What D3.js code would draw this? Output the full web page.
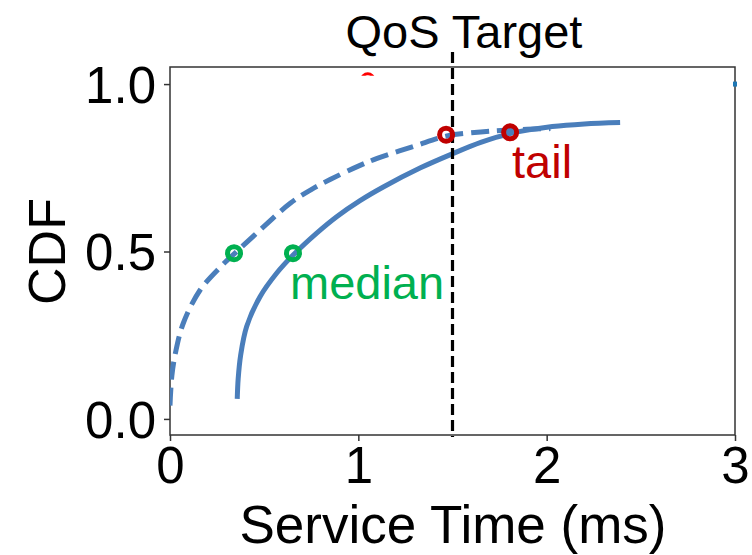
<!DOCTYPE html>
<html>
<head>
<meta charset="utf-8">
<script src="https://cdn.jsdelivr.net/npm/d3@7"></script>
<style>
  html, body { margin: 0; padding: 0; background: #fff; }
  svg { display: block; font-family: "Liberation Sans", Arial, sans-serif; }
</style>
</head>
<body>
<svg id="chart" width="752" height="555"></svg>
<script>
// Service-time CDFs (ms vs. cumulative fraction)
const dashedCdf = [
  [0.0, 0.04], [0.01, 0.13], [0.03, 0.2], [0.07, 0.285], [0.16, 0.385],
  [0.27, 0.455], [0.345, 0.495], [0.48, 0.565], [0.64, 0.645], [0.75, 0.685],
  [0.85, 0.715], [1.0, 0.755], [1.1, 0.778], [1.3, 0.815], [1.47, 0.845],
  [1.65, 0.857], [1.8, 0.863], [2.02, 0.867]
];
const solidCdf = [
  [0.357, 0.06], [0.362, 0.12], [0.375, 0.19], [0.407, 0.276], [0.478, 0.365],
  [0.566, 0.435], [0.655, 0.49], [0.779, 0.555], [0.885, 0.604], [1.009, 0.652],
  [1.13, 0.692], [1.33, 0.75], [1.5, 0.792], [1.65, 0.826], [1.806, 0.852],
  [2.03, 0.873], [2.2, 0.881], [2.39, 0.885]
];
const medianPoints = [[0.34, 0.495], [0.653, 0.495]];
const tailPoints = [[1.466, 0.849], [1.806, 0.856]];
const qosTarget = 1.5;
const xTicks = [0, 1, 2, 3];
const yTicks = [0.0, 0.5, 1.0];
const stray = { red: [1.05, 1.013], blue: [3.0, 1.0] };

const svg = d3.select("#chart");
const x = d3.scaleLinear().domain([0, 3]).range([170, 735]);
const y = d3.scaleLinear().domain([-0.048, 1.051]).range([435, 67]);

const lineColor = "#4a7ebb";

// clip region for plot content
svg.append("clipPath").attr("id", "plotClip")
  .append("rect")
  .attr("x", x(0)).attr("y", y(1.051))
  .attr("width", x(3) - x(0)).attr("height", y(-0.048) - y(1.051));

// axes
const xAxis = d3.axisBottom(x).tickValues(xTicks).tickFormat(d3.format("d")).tickSizeOuter(0).tickSize(6).tickPadding(6);
const yAxis = d3.axisLeft(y).tickValues(yTicks).tickFormat(d3.format(".1f")).tickSizeOuter(0).tickSize(6).tickPadding(8);

const gx = svg.append("g").attr("transform", `translate(0,${y(-0.048)})`).call(xAxis);
const gy = svg.append("g").attr("transform", `translate(${x(0)},0)`).call(yAxis);
[gx, gy].forEach(g => {
  g.select(".domain").remove();
  g.selectAll(".tick line").attr("stroke", "#333").attr("stroke-width", 1.5);
  g.selectAll(".tick text").attr("fill", "#000").style("font-size", "51px");
});
gx.selectAll(".tick text").attr("dy", "0.71em");
gy.selectAll(".tick text").attr("dy", "0.36em");

// frame
svg.append("rect")
  .attr("x", x(0)).attr("y", y(1.051))
  .attr("width", x(3) - x(0)).attr("height", y(-0.048) - y(1.051))
  .attr("fill", "none").attr("stroke", "#333").attr("stroke-width", 1.5);

const plot = svg.append("g").attr("clip-path", "url(#plotClip)");

const line = d3.line().x(d => x(d[0])).y(d => y(d[1])).curve(d3.curveCatmullRom.alpha(0.5));

plot.append("path").datum(dashedCdf)
  .attr("d", line).attr("fill", "none")
  .attr("stroke", lineColor).attr("stroke-width", 5)
  .attr("stroke-dasharray", "18,8");

plot.append("path").datum(solidCdf)
  .attr("d", line).attr("fill", "none")
  .attr("stroke", lineColor).attr("stroke-width", 5)
  .attr("stroke-linecap", "butt");

// stray marks near the top
svg.append("clipPath").attr("id", "arcClip")
  .append("rect")
  .attr("x", x(stray.red[0]) - 10).attr("y", y(stray.red[1]) - 10)
  .attr("width", 20).attr("height", 6);
svg.append("circle")
  .attr("cx", x(stray.red[0])).attr("cy", y(stray.red[1]))
  .attr("r", 6).attr("fill", "none").attr("stroke", "#ff0000").attr("stroke-width", 3)
  .attr("clip-path", "url(#arcClip)");
svg.append("rect")
  .attr("x", x(stray.blue[0]) - 2).attr("y", y(stray.blue[1]) - 2.5)
  .attr("width", 4).attr("height", 5).attr("fill", "#1f77b4");

// QoS target line
svg.append("line")
  .attr("x1", x(qosTarget)).attr("x2", x(qosTarget))
  .attr("y1", 52).attr("y2", y(-0.048) + 2)
  .attr("stroke", "#000").attr("stroke-width", 3.2)
  .attr("stroke-dasharray", "11,5");

// markers
svg.selectAll(".median").data(medianPoints).join("circle")
  .attr("class", "median")
  .attr("cx", d => x(d[0])).attr("cy", d => y(d[1])).attr("r", 6.5)
  .attr("fill", "none").attr("stroke", "#00b050").attr("stroke-width", 5);
svg.selectAll(".tail").data(tailPoints).join("circle")
  .attr("class", "tail")
  .attr("cx", d => x(d[0])).attr("cy", d => y(d[1])).attr("r", 6.5)
  .attr("fill", "none").attr("stroke", "#c00000").attr("stroke-width", 5);

// annotations
svg.append("text").attr("x", 290).attr("y", 299)
  .attr("fill", "#00b050").style("font-size", "47px").text("median");
svg.append("text").attr("x", 512).attr("y", 178)
  .attr("fill", "#c00000").style("font-size", "47px").text("tail");
svg.append("text").attr("x", 464).attr("y", 48).attr("text-anchor", "middle")
  .attr("fill", "#000").style("font-size", "47px").text("QoS Target");

// axis titles
svg.append("text").attr("x", 453).attr("y", 543).attr("text-anchor", "middle")
  .attr("fill", "#000").style("font-size", "53px").text("Service Time (ms)");
svg.append("text")
  .attr("transform", `translate(65,${y(0.5)}) rotate(-90)`)
  .attr("text-anchor", "middle")
  .attr("fill", "#000").style("font-size", "52px").text("CDF");
</script>
</body>
</html>
